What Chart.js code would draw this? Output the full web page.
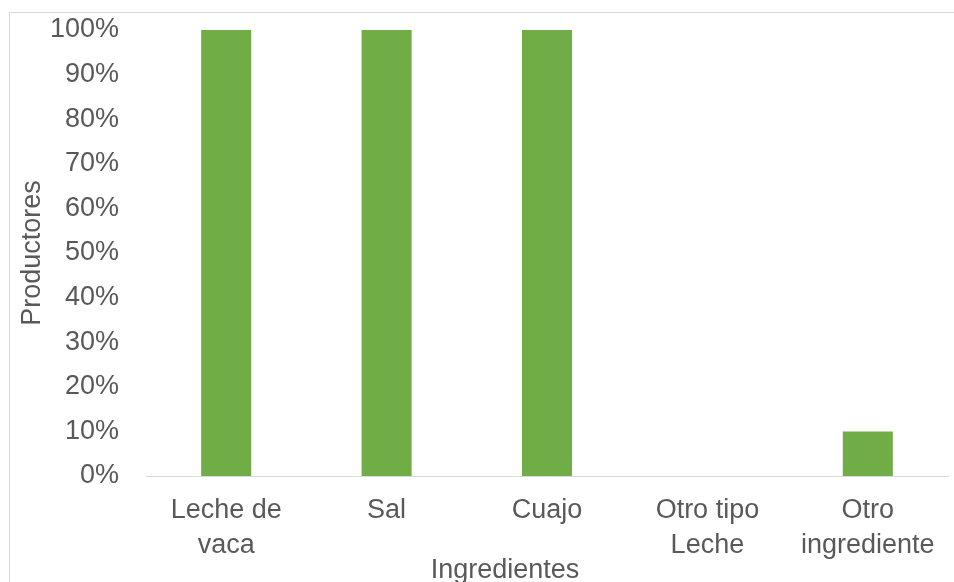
<!DOCTYPE html>
<html>
<head>
<meta charset="utf-8">
<script src="https://cdn.jsdelivr.net/npm/chart.js@4.4.1/dist/chart.umd.min.js"></script>
<style>
  html, body { margin: 0; padding: 0; background: #fff; overflow: hidden; }
  body { width: 954px; height: 582px; position: relative; }
  .frame {
    position: absolute; left: 9px; top: 12px;
    width: 990px; height: 600px;
    border: 1px solid #d9d9d9; background: #fff;
  }
  #chart { position: absolute; left: 0; top: 0; }
</style>
</head>
<body>
<div class="frame">
  <canvas id="chart" width="990" height="575"></canvas>
</div>
<script>
// ========== DATA ==========
const categories = [
  ['Leche de', 'vaca'],
  'Sal',
  'Cuajo',
  ['Otro tipo', 'Leche'],
  ['Otro', 'ingrediente']
];
const productores = [100, 100, 100, 0, 10];
const yTicks = [0, 10, 20, 30, 40, 50, 60, 70, 80, 90, 100];

const xTitle = 'Ingredientes';
const yTitle = 'Productores';

const textColor = '#595959';
const fontFamily = '"Liberation Sans", Arial, sans-serif';

// x axis title sits centred on the whole chart box, not on the plot area
const xTitlePlugin = {
  id: 'xTitle',
  afterDraw(chart) {
    const ctx = chart.ctx;
    ctx.save();
    ctx.font = '27px ' + fontFamily;
    ctx.fillStyle = textColor;
    ctx.textAlign = 'center';
    ctx.textBaseline = 'alphabetic';
    ctx.fillText(xTitle, chart.width / 2, chart.height - 10);
    ctx.restore();
  }
};

new Chart(document.getElementById('chart'), {
  type: 'bar',
  data: {
    labels: categories,
    datasets: [{
      data: productores,
      backgroundColor: '#70ad47',
      borderWidth: 0,
      barPercentage: 1,
      categoryPercentage: 0.312
    }]
  },
  options: {
    responsive: false,
    animation: false,
    layout: { padding: { top: 17, right: 52, bottom: 0, left: 0 } },
    plugins: {
      legend: { display: false },
      tooltip: { enabled: false }
    },
    scales: {
      x: {
        grid: { display: false, drawTicks: false },
        border: { display: true, color: '#d9d9d9', width: 1 },
        ticks: {
          color: textColor,
          padding: 17,
          maxRotation: 0,
          autoSkip: false,
          font: { family: fontFamily, size: 27, lineHeight: 1.3 }
        },
        afterFit(scale) {
          scale.height = 112;
          scale.paddingLeft = 0;
          scale.paddingRight = 0;
        }
      },
      y: {
        min: 0,
        max: 100,
        grid: { display: false, drawTicks: false },
        border: { display: false },
        afterBuildTicks(scale) {
          scale.ticks = yTicks.map(v => ({ value: v }));
        },
        ticks: {
          color: textColor,
          padding: 27,
          font: { family: fontFamily, size: 27 },
          callback: v => v + '%'
        },
        title: {
          display: true,
          text: yTitle,
          color: textColor,
          padding: { top: 6, bottom: 0 },
          font: { family: fontFamily, size: 27 }
        },
        afterFit(scale) {
          // keep the plot box where the layout padding puts it
          scale.width = 136;
          scale.paddingTop = 0;
          scale.paddingBottom = 0;
        }
      }
    }
  },
  plugins: [xTitlePlugin]
});
</script>
</body>
</html>
